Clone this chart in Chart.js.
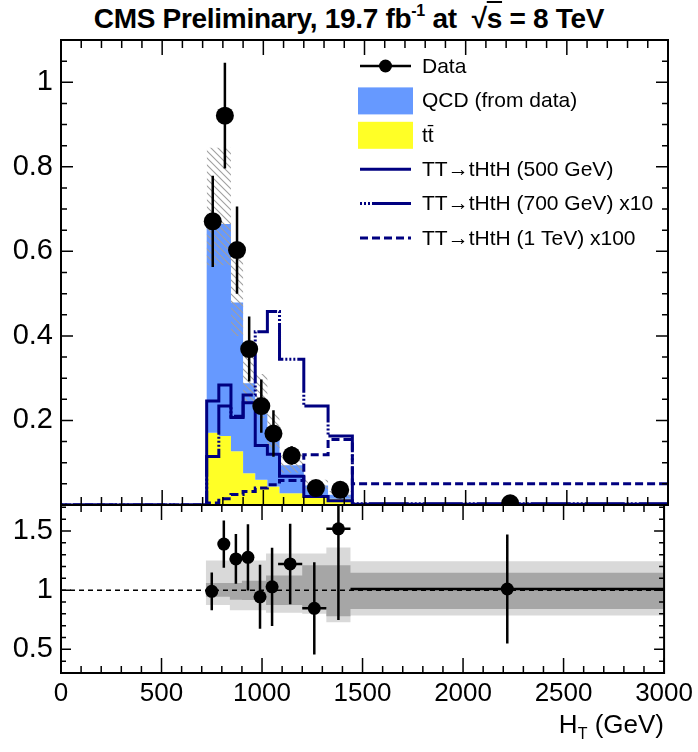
<!DOCTYPE html>
<html>
<head>
<meta charset="utf-8">
<script src="https://cdn.jsdelivr.net/npm/chart.js@4.4.1/dist/chart.umd.min.js"></script>
<style>
  body { margin:0; background:#fff; width:698px; height:752px; position:relative; overflow:hidden; font-family:"Liberation Sans", Arial, sans-serif }
  #title { position:absolute; left:0; top:3px; width:698px; text-align:center; font-weight:bold; font-size:28px; line-height:32px; letter-spacing:-0.3px }
  #title sup { font-size:16px; vertical-align:12px; line-height:0 }
  #title .ov { text-decoration:overline }
  #main { position:absolute; left:0; top:0 }
  #ratio { position:absolute; left:0; top:477px }
  #xtitle { position:absolute; right:34px; top:710px; font-size:26px; line-height:28px }
  #xtitle sub { font-size:16px; vertical-align:-6px; line-height:0 }
</style>
</head>
<body>
<div id="title">CMS Preliminary, 19.7 fb<sup>-1</sup> at &nbsp;√<span class="ov">s</span> = 8 TeV</div>
<canvas id="main" width="698" height="535"></canvas>
<canvas id="ratio" width="698" height="275"></canvas>
<div id="xtitle">H<sub>T</sub> (GeV)</div>
<script>
// bin edges (GeV), one value per bin below
const edges = [720, 780, 840, 900, 960, 1020, 1080, 1200, 1320, 1440, 3000]

// data
const dataX = [750, 810, 870, 930, 990, 1050, 1140, 1260, 1380, 2220]
const dataY = [0.671, 0.921, 0.603, 0.369, 0.234, 0.169, 0.117, 0.040, 0.036, 0.004]
const dataErr = [0.108, 0.125, 0.103, 0.077, 0.063, 0.055, 0.022, 0.012, 0.012, 0.006]

// backgrounds (stacked: ttbar at the bottom, QCD on top)
const ttbar = [0.171, 0.163, 0.127, 0.075, 0.060, 0.044, 0.028, 0.020, 0.015, 0.002]
const qcd = [0.504, 0.502, 0.352, 0.213, 0.188, 0.120, 0.066, 0.026, 0.009, 0.002]
// hatched uncertainty on the background sum
const bkgHi = [0.845, 0.845, 0.590, 0.360, 0.310, 0.215, 0.123, 0.060, 0.033, 0.005]
const bkgLo = [0.567, 0.567, 0.400, 0.240, 0.206, 0.133, 0.076, 0.037, 0.018, 0.003]

// signals
const sig500 = [0.246, 0.284, 0.207, 0.242, 0.141, 0.120, 0.068, 0.020, 0.010, 0.002]
const sig700 = [0.115, 0.234, 0.210, 0.260, 0.410, 0.458, 0.345, 0.234, 0.163, 0.003]
const sig1000 = [0.005, 0.015, 0.025, 0.032, 0.040, 0.048, 0.058, 0.119, 0.155, 0.050]

// ratio panel
const ratioY = [0.990, 1.390, 1.264, 1.278, 0.944, 1.028, 1.222, 0.847, 1.519, 1.010]
const ratioErr = [0.16, 0.20, 0.21, 0.28, 0.27, 0.33, 0.34, 0.39, 0.77, 0.46]
const ratioXErr = [30, 30, 30, 30, 30, 30, 60, 60, 60, 780]
const outerHi = [1.25, 1.25, 1.25, 1.25, 1.25, 1.31, 1.31, 1.31, 1.36, 1.244]
const outerLo = [0.875, 0.875, 0.83, 0.83, 0.83, 0.81, 0.81, 0.80, 0.73, 0.786]
const innerHi = [1.06, 1.06, 1.06, 1.08, 1.08, 1.125, 1.125, 1.21, 1.21, 1.147]
const innerLo = [0.945, 0.945, 0.92, 0.917, 0.917, 0.875, 0.875, 0.85, 0.78, 0.84]

const xTicks = [0, 500, 1000, 1500, 2000, 2500, 3000]
const mainYTicks = [0.2, 0.4, 0.6, 0.8, 1]
const ratioYTicks = [0.5, 1, 1.5]

const legendLabels = ['Data', 'QCD (from data)', 'tt\u0304', 'TT\u2192tHtH (500 GeV)', 'TT\u2192tHtH (700 GeV) x10', 'TT\u2192tHtH (1 TeV) x100']

const NAVY = '#000080', BLUE = '#6699ff', YELLOW = '#ffff26'
const NONE = 'rgba(0,0,0,0)'
const DASH700 = [2, 2, 2, 2, 2, 2, 40, 2]
const DASH1000 = [8, 4]
const FONT = '"Liberation Sans", Arial, sans-serif'
Chart.defaults.font.family = FONT
Chart.defaults.color = '#000'

// histogram -> step points (value holds from the left edge to the next one)
function hist(vals, fromZero){
  const p = fromZero ? [{x:0, y:0}] : []
  vals.forEach((v,i) => p.push({x:edges[i], y:v}))
  p.push({x:edges[edges.length-1], y:vals[vals.length-1]})
  return p
}
const pts = (xs, ys) => xs.map((x,i) => ({x, y:ys[i]}))
const fmt = v => String(Number(v.toFixed(2)))

function stepLine(data, color, dash, width){
  return { data, stepped:true, borderColor:color, borderWidth:width, borderDash:dash||[], pointRadius:0, fill:false }
}
function band(data, fill, bg){
  return { data, stepped:true, borderColor:NONE, borderWidth:0, pointRadius:0, fill, backgroundColor:bg }
}

function framePlugin(o){
  return {
    id:'frame',
    afterDraw(chart){
      const {ctx, chartArea:a, scales:{x, y}} = chart
      ctx.save()
      ctx.strokeStyle = '#000'; ctx.lineWidth = 1.5
      ctx.beginPath()
      for (let k = 0; k*o.xMinor <= x.max + 1e-9; k++){
        const v = k*o.xMinor, px = x.getPixelForValue(v)
        const len = Math.abs(v/o.xMajor - Math.round(v/o.xMajor)) < 1e-6 ? o.xMajorLen : o.xMinorLen
        ctx.moveTo(px, a.bottom); ctx.lineTo(px, a.bottom-len)
        ctx.moveTo(px, a.top); ctx.lineTo(px, a.top+len)
      }
      const k0 = Math.ceil(y.min/o.yMinor - 1e-6)
      for (let k = k0; k*o.yMinor <= y.max + 1e-9; k++){
        const v = k*o.yMinor, py = y.getPixelForValue(v)
        const len = Math.abs(v/o.yMajor - Math.round(v/o.yMajor)) < 1e-6 ? o.yMajorLen : o.yMinorLen
        ctx.moveTo(a.left, py); ctx.lineTo(a.left+len, py)
        ctx.moveTo(a.right, py); ctx.lineTo(a.right-len, py)
      }
      ctx.stroke()
      ctx.lineWidth = 2
      ctx.strokeRect(a.left, a.top, a.right-a.left, a.bottom-a.top)
      ctx.restore()
    }
  }
}

function errPlugin(o){
  return {
    id:'errBars',
    beforeDatasetDraw(chart, args){
      if (args.index !== 0) return
      const {ctx, chartArea:a, scales:{x, y}} = chart
      ctx.save()
      ctx.beginPath(); ctx.rect(a.left, a.top, a.right-a.left, a.bottom-a.top); ctx.clip()
      ctx.strokeStyle = '#000'; ctx.lineWidth = o.width
      ctx.beginPath()
      o.xs.forEach((xv,i) => {
        const px = x.getPixelForValue(xv), py = y.getPixelForValue(o.ys[i])
        ctx.moveTo(px, y.getPixelForValue(o.ys[i]-o.yerr[i])); ctx.lineTo(px, y.getPixelForValue(o.ys[i]+o.yerr[i]))
        if (o.xerr){ ctx.moveTo(x.getPixelForValue(xv-o.xerr[i]), py); ctx.lineTo(x.getPixelForValue(xv+o.xerr[i]), py) }
      })
      ctx.stroke()
      ctx.restore()
    }
  }
}

const legendPlugin = {
  id:'hepLegend',
  afterDraw(chart){
    const ctx = chart.ctx
    const x0 = 358, x1 = 413, tx = 422, y0 = 66, dy = 34.4
    ctx.save()
    ctx.font = '21px ' + FONT
    ctx.textBaseline = 'middle'
    ctx.fillStyle = '#000'
    legendLabels.forEach((lab,i) => {
      const yc = y0 + i*dy
      ctx.setLineDash([])
      if (i === 0){
        ctx.strokeStyle = '#000'; ctx.lineWidth = 2.5
        ctx.beginPath(); ctx.moveTo(x0+2, yc); ctx.lineTo(x1-2, yc); ctx.stroke()
        ctx.beginPath(); ctx.arc((x0+x1)/2, yc, 6.5, 0, Math.PI*2); ctx.fillStyle = '#000'; ctx.fill()
      } else if (i === 1 || i === 2){
        ctx.fillStyle = i === 1 ? BLUE : YELLOW
        ctx.fillRect(x0, yc-13, x1-x0, 27)
      } else {
        ctx.strokeStyle = NAVY; ctx.lineWidth = 3
        ctx.setLineDash(i === 3 ? [] : i === 4 ? DASH700 : DASH1000)
        ctx.beginPath(); ctx.moveTo(x0+2, yc); ctx.lineTo(x1-2, yc); ctx.stroke()
      }
      ctx.setLineDash([])
      ctx.fillStyle = '#000'
      ctx.fillText(lab, tx, yc+1)
    })
    ctx.restore()
  }
}

// hatch pattern for the background uncertainty
const hatchCanvas = document.createElement('canvas')
hatchCanvas.width = 7; hatchCanvas.height = 7
const hg = hatchCanvas.getContext('2d')
hg.strokeStyle = '#a0a0a0'; hg.lineWidth = 1.1
hg.beginPath()
hg.moveTo(0,0); hg.lineTo(7,7); hg.moveTo(-3.5,3.5); hg.lineTo(3.5,10.5); hg.moveTo(3.5,-3.5); hg.lineTo(10.5,3.5)
hg.stroke()
const hatch = document.getElementById('main').getContext('2d').createPattern(hatchCanvas, 'repeat')

const bkgTop = ttbar.map((v,i) => v + qcd[i])

const common = {
  responsive:false, animation:false, devicePixelRatio:1, events:[],
  plugins:{ legend:{display:false}, tooltip:{enabled:false} }
}

new Chart(document.getElementById('main'), {
  type:'line',
  data:{ datasets:[
    { data:pts(dataX, dataY), showLine:false, pointRadius:9, pointBackgroundColor:'#000', pointBorderWidth:0 },
    stepLine(hist(sig500, true), NAVY, [], 3),
    stepLine(hist(sig700, true), NAVY, DASH700, 3),
    stepLine(hist(sig1000, true), NAVY, DASH1000, 3),
    band(hist(bkgHi), '+1', hatch),
    band(hist(bkgLo), false, NONE),
    band(hist(bkgTop, true), '+1', BLUE),
    band(hist(ttbar, true), 'origin', YELLOW)
  ]},
  options:{ ...common,
    layout:{ padding:{ top:40, right:30, bottom:30, left:0 } },
    scales:{
      x:{ type:'linear', min:0, max:3000, display:false },
      y:{ min:0, max:1.1,
        afterBuildTicks:s => { s.ticks = mainYTicks.map(v => ({value:v})) },
        afterFit:s => { s.width = 61 },
        grid:{ display:false, drawTicks:false }, border:{ display:false },
        ticks:{ font:{ size:29 }, padding:8, callback:fmt } }
    }
  },
  plugins:[ errPlugin({ xs:dataX, ys:dataY, yerr:dataErr, width:2.5 }),
            framePlugin({ xMinor:100, xMajor:500, xMajorLen:15, xMinorLen:8, yMinor:0.05, yMajor:0.2, yMajorLen:12, yMinorLen:6 }),
            legendPlugin ]
})

new Chart(document.getElementById('ratio'), {
  type:'line',
  data:{ datasets:[
    { data:pts(dataX, ratioY), showLine:false, pointRadius:6.5, pointBackgroundColor:'#000', pointBorderWidth:0 },
    { data:[{x:0, y:1}, {x:3000, y:1}], borderColor:'#000', borderWidth:1.5, borderDash:[5,4], pointRadius:0, fill:false },
    band(hist(innerHi), '+1', '#a6a6a6'),
    band(hist(innerLo), false, NONE),
    band(hist(outerHi), '+1', '#d9d9d9'),
    band(hist(outerLo), false, NONE)
  ]},
  options:{ ...common,
    layout:{ padding:{ top:28, right:30, bottom:39, left:0 } },
    scales:{
      x:{ type:'linear', min:0, max:3000,
        afterBuildTicks:s => { s.ticks = xTicks.map(v => ({value:v})) },
        afterFit:s => { s.height = 40 },
        grid:{ display:false, drawTicks:false }, border:{ display:false },
        ticks:{ font:{ size:26 }, padding:5, maxRotation:0, autoSkip:false, callback:v => String(v) } },
      y:{ min:0.3, max:1.72,
        afterBuildTicks:s => { s.ticks = ratioYTicks.map(v => ({value:v})) },
        afterFit:s => { s.width = 61 },
        grid:{ display:false, drawTicks:false }, border:{ display:false },
        ticks:{ font:{ size:29 }, padding:8, callback:fmt } }
    }
  },
  plugins:[ errPlugin({ xs:dataX, ys:ratioY, yerr:ratioErr, xerr:ratioXErr, width:2.5 }),
            framePlugin({ xMinor:100, xMajor:500, xMajorLen:15, xMinorLen:7, yMinor:0.1, yMajor:0.5, yMajorLen:10, yMinorLen:5 }) ]
})
</script>
</body>
</html>
